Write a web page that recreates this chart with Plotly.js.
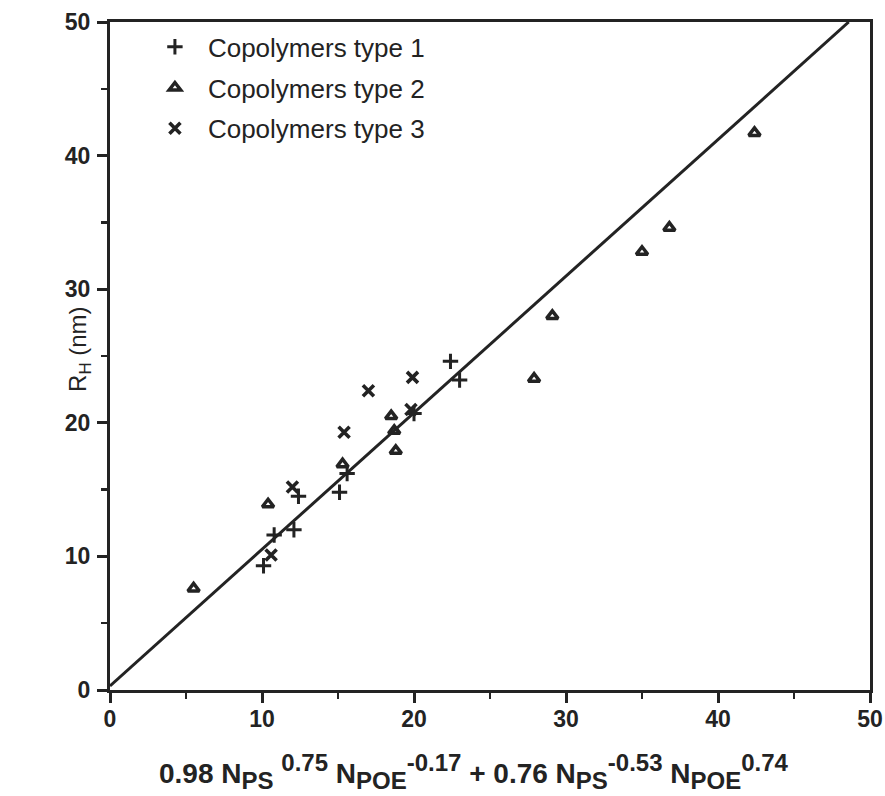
<!DOCTYPE html>
<html>
<head>
<meta charset="utf-8">
<script src="https://cdn.plot.ly/plotly-3.0.1.min.js"></script>
<style>
  html, body { margin: 0; padding: 0; background: #fff; }
  #chart { width: 885px; height: 796px; }
</style>
</head>
<body>
<div id="chart"></div>
<script>
// Hydrodynamic radius vs. scaling expression, three copolymer families
const type1X = [10.1, 10.8, 12.1, 12.4, 15.1, 15.6, 20.0, 22.4, 23.0];
const type1Y = [9.3, 11.6, 12.0, 14.5, 14.8, 16.2, 20.7, 24.6, 23.2];

const type2X = [5.5, 10.4, 15.3, 18.5, 18.7, 18.8, 27.9, 29.1, 35.0, 36.8, 42.4];
const type2Y = [7.6, 13.9, 16.9, 20.5, 19.4, 17.9, 23.3, 28.0, 32.8, 34.6, 41.7];

const type3X = [10.6, 12.0, 15.4, 17.0, 19.9, 19.8];
const type3Y = [10.1, 15.2, 19.3, 22.4, 23.4, 21.0];

// straight reference line
const fitX = [0, 48.6];
const fitY = [0.3, 50];

const seriesNames = ['Copolymers type 1', 'Copolymers type 2', 'Copolymers type 3'];
const tickValues = [0, 10, 20, 30, 40, 50];

const ink = '#232323';
const sans = 'Liberation Sans, Arial, sans-serif';

// sub/superscripts in the x-axis expression are drawn a little larger than Plotly's default 70%
const sb = t => '<sub><span style="font-size:24px">' + t + '</span></sub>';
const sp = t => '<sup><span style="font-size:24px">' + t + '</span></sup>';
const xTitle = '0.98 N' + sb('PS') + ' ' + sp('0.75') + ' N' + sb('POE') + sp('-0.17') +
  ' + 0.76 N' + sb('PS') + sp('-0.53') + ' N' + sb('POE') + sp('0.74');

const traces = [
  {
    x: type1X, y: type1Y, name: seriesNames[0], legendgroup: 'g1', mode: 'markers', type: 'scatter',
    marker: { symbol: 'cross-thin-open', size: 11, color: ink, line: { color: ink, width: 3 } }
  },
  {
    x: type2X, y: type2Y, name: seriesNames[1], legendgroup: 'g2', mode: 'markers', type: 'scatter',
    marker: { symbol: 'triangle-up-open', size: 10, color: ink, line: { color: ink, width: 3.5 } }
  },
  {
    x: type3X, y: type3Y, name: seriesNames[2], legendgroup: 'g3', mode: 'markers', type: 'scatter',
    marker: { symbol: 'x-thin-open', size: 11, color: ink, line: { color: ink, width: 3.6 } }
  },
  {
    x: fitX, y: fitY, mode: 'lines', type: 'scatter', showlegend: false,
    line: { color: ink, width: 3 }, hoverinfo: 'skip'
  }
];

const tickFont = { family: sans, size: 23, color: ink, weight: 'bold' };

const axisCommon = {
  range: [0, 50],
  tickvals: tickValues,
  ticks: 'outside',
  ticklen: 10,
  tickwidth: 3,
  tickcolor: ink,
  showline: true,
  linewidth: 3,
  linecolor: ink,
  mirror: true,
  showgrid: false,
  zeroline: false,
  tickfont: tickFont,
  fixedrange: true,
  minor: { dtick: 5, ticks: 'outside', ticklen: 6, tickwidth: 2.5, tickcolor: ink, showgrid: false }
};

const layout = {
  width: 885,
  height: 796,
  margin: { l: 110, r: 15, t: 22, b: 106 },
  paper_bgcolor: '#ffffff',
  plot_bgcolor: '#ffffff',
  xaxis: Object.assign({}, axisCommon, { ticklabelstandoff: -4 }),
  yaxis: Object.assign({}, axisCommon, { ticklabelstandoff: 2 }),
  showlegend: true,
  legend: {
    x: 0.042, y: 0.998, xanchor: 'left', yanchor: 'top',
    bgcolor: 'rgba(0,0,0,0)',
    font: { family: sans, size: 26, color: ink },
    itemwidth: 56,
    traceorder: 'grouped',
    tracegroupgap: 4
  },
  annotations: [
    {
      xref: 'paper', yref: 'paper', x: -0.04, y: 0.51,
      xanchor: 'center', yanchor: 'middle', textangle: -90, showarrow: false,
      text: 'R<sub>H</sub> (nm)',
      font: { family: sans, size: 24, color: ink }
    },
    {
      xref: 'paper', yref: 'paper', x: 0.479, y: -0.122,
      xanchor: 'center', yanchor: 'middle', showarrow: false,
      text: xTitle,
      font: { family: sans, size: 28, color: ink, weight: 'bold' }
    }
  ]
};

Plotly.newPlot('chart', traces, layout, { displayModeBar: false, staticPlot: true });
</script>
</body>
</html>
